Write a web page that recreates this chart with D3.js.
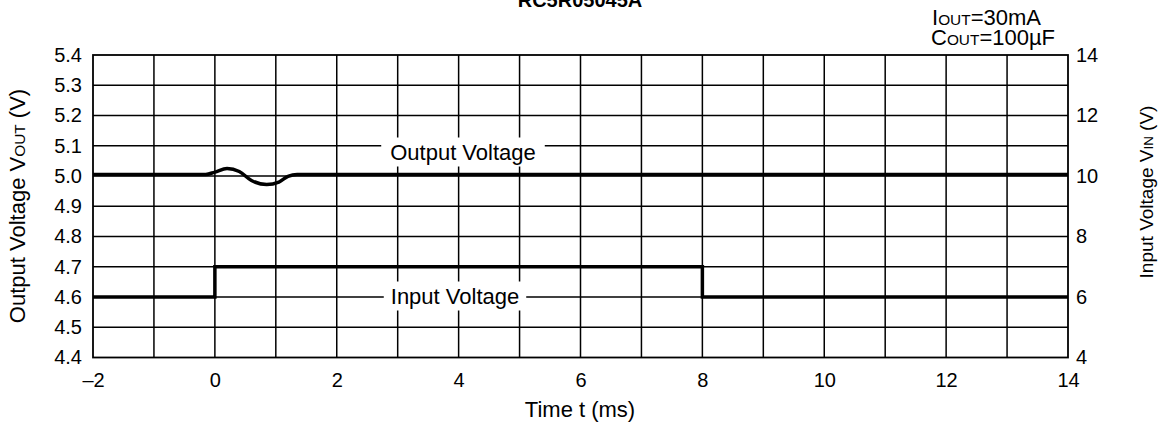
<!DOCTYPE html>
<html><head><meta charset="utf-8">
<script src="https://cdn.jsdelivr.net/npm/d3@7"></script>
<style>body{margin:0;background:#fff}svg{display:block;font-family:"Liberation Sans",Arial,sans-serif}</style>
</head><body><svg id="c" width="1162" height="425"></svg>
<script>
const title = "RC5R05045A";
const xTicks = [-2, 0, 2, 4, 6, 8, 10, 12, 14];
const leftTicks = [4.4, 4.5, 4.6, 4.7, 4.8, 4.9, 5.0, 5.1, 5.2, 5.3, 5.4];
const rightTicks = [4, 6, 8, 10, 12, 14];
const gridX = [-1, 0, 1, 2, 3, 4, 5, 6, 7, 8, 9, 10, 11, 12, 13];
// Output voltage (V, left axis)
const outT = [-2, -0.15, 0, 0.2, 0.4, 0.6, 0.85, 1.05, 1.2, 1.35, 14];
const outV = [5.005, 5.005, 5.013, 5.025, 5.015, 4.985, 4.972, 4.98, 4.999, 5.005, 5.005];
// Input voltage (V, right axis), step
const inT = [-2, 0, 0, 8, 8, 14];
const inV = [6, 6, 7, 7, 6, 6];

const svg = d3.select("#c");
const L = 93, R = 1068, T = 55, B = 357.5;
const x = d3.scaleLinear().domain([-2, 14]).range([L, R]);
const yL = d3.scaleLinear().domain([4.4, 5.4]).range([B, T]);
const yR = d3.scaleLinear().domain([4, 14]).range([B, T]);
const fs = 22, tfs = 20, sub = 15.4;

// grid
const g = svg.append("g");
g.selectAll("line.v").data(gridX).enter().append("line")
  .attr("x1", d => x(d)).attr("x2", d => x(d)).attr("y1", T).attr("y2", B)
  .attr("stroke", "#000").attr("stroke-width", 1.5);
g.selectAll("line.h").data(leftTicks.slice(1, -1)).enter().append("line")
  .attr("x1", L).attr("x2", R).attr("y1", d => yL(d)).attr("y2", d => yL(d))
  .attr("stroke", "#000").attr("stroke-width", 1.5);

function boxLabel(txt, cx, cy, padX, padY) {
  const t = svg.append("text").attr("x", cx).attr("y", cy).attr("text-anchor", "middle")
    .attr("dominant-baseline", "central").attr("font-size", fs).text(txt);
  const bb = t.node().getBBox();
  svg.insert("rect", "text").attr("x", bb.x - padX).attr("y", bb.y - padY)
    .attr("width", bb.width + 2 * padX).attr("height", bb.height + 2 * padY).attr("fill", "#fff");
}

// frame
svg.append("rect").attr("x", L).attr("y", T).attr("width", R - L).attr("height", B - T)
  .attr("fill", "none").attr("stroke", "#000").attr("stroke-width", 1.8);

// series
const lineOut = d3.line().x((d, i) => x(outT[i])).y(d => yL(d)).curve(d3.curveMonotoneX);
svg.append("path").attr("d", lineOut(outV)).attr("fill", "none").attr("stroke", "#000").attr("stroke-width", 3.5);
const lineIn = d3.line().x((d, i) => x(inT[i])).y(d => yR(d));
svg.append("path").attr("d", lineIn(inV)).attr("fill", "none").attr("stroke", "#000").attr("stroke-width", 3.5);

boxLabel("Output Voltage", 463, 152, 9, 2);
boxLabel("Input Voltage", 455, 296, 7, 2);

// axes
const axL = d3.axisLeft(yL).tickValues(leftTicks).tickSize(0).tickPadding(11).tickFormat(d3.format(".1f"));
const gL = svg.append("g").attr("transform", `translate(${L},0)`).call(axL);
const axR = d3.axisRight(yR).tickValues(rightTicks).tickSize(0).tickPadding(8).tickFormat(d3.format("d"));
const gR = svg.append("g").attr("transform", `translate(${R},0)`).call(axR);
const axB = d3.axisBottom(x).tickValues(xTicks).tickSize(0).tickPadding(15.5)
  .tickFormat(d => d < 0 ? "\u2013" + Math.abs(d) : String(d));
const gB = svg.append("g").attr("transform", `translate(0,${B})`).call(axB);
[gL, gR, gB].forEach(a => {
  a.select(".domain").remove();
  a.selectAll("text").attr("font-size", tfs).attr("font-family", "Liberation Sans, Arial, sans-serif").attr("fill", "#000");
});

// axis titles
svg.append("text").attr("x", 580).attr("y", 417).attr("text-anchor", "middle").attr("font-size", fs).text("Time t (ms)");
const lt = svg.append("text").attr("transform", "translate(25,206) rotate(-90)").attr("text-anchor", "middle").attr("font-size", fs);
lt.append("tspan").text("Output Voltage V");
lt.append("tspan").attr("font-size", sub).text("OUT");
lt.append("tspan").text(" (V)");
const rt = svg.append("text").attr("transform", "translate(1153,192) rotate(-90)").attr("text-anchor", "middle").attr("font-size", 19);
rt.append("tspan").text("Input Voltage V");
rt.append("tspan").attr("font-size", 13.3).text("IN");
rt.append("tspan").text(" (V)");

// title and conditions
svg.append("text").attr("x", 580).attr("y", 7).attr("text-anchor", "middle").attr("font-size", 20).attr("font-weight", "bold").text(title);
const c1 = svg.append("text").attr("x", 932).attr("y", 25).attr("font-size", fs);
c1.append("tspan").text("I"); c1.append("tspan").attr("font-size", sub).text("OUT"); c1.append("tspan").text("=30mA");
const c2 = svg.append("text").attr("x", 931).attr("y", 45).attr("font-size", fs);
c2.append("tspan").text("C"); c2.append("tspan").attr("font-size", sub).text("OUT"); c2.append("tspan").text("=100\u00b5F");
</script></body></html>
